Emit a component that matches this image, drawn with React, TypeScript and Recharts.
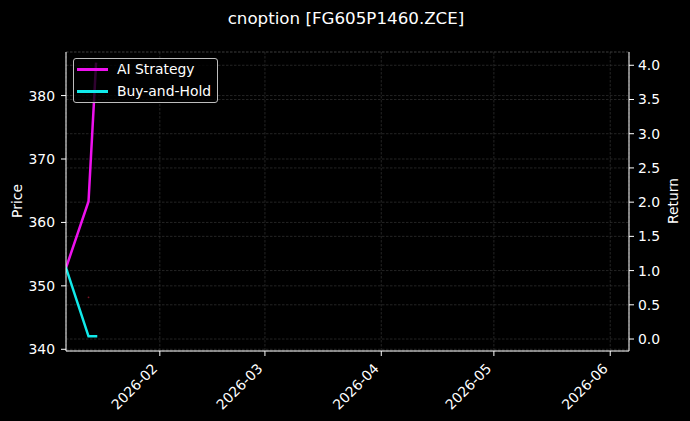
import React from 'react';
import {
  ComposedChart,
  Line,
  Scatter,
  XAxis,
  YAxis,
  CartesianGrid,
  Legend,
} from 'recharts';

// Days counted from 2026-01-01 (day 0)
const days = [6, 12, 14];
const aiStrategy = [1.04, 2.01, 4.02];
const buyAndHold = [1.04, 0.04, 0.04];

const priceDays = [12];
const priceValues = [348.2];

const xTickDays = [31, 59, 90, 120, 151];
const xTickLabels = ['2026-02', '2026-03', '2026-04', '2026-05', '2026-06'];
const priceTicks = [340, 350, 360, 370, 380];
const returnTicks = [0, 0.5, 1, 1.5, 2, 2.5, 3, 3.5, 4];

const title = 'cnoption [FG605P1460.ZCE]';

const lineData = days.map((d, i) => ({ day: d, ai: aiStrategy[i], bh: buyAndHold[i] }));
const priceData = priceDays.map((d, i) => ({ day: d, price: priceValues[i] }));

const FONT = '"DejaVu Sans", sans-serif';
const TICK_FS = 13.9;

const XTick = (props: any) => {
  const { x, y, payload } = props;
  const idx = xTickDays.indexOf(payload.value);
  const label = idx >= 0 ? xTickLabels[idx] : String(payload.value);
  const ax = x - 4.95;
  const ay = y + 4.95;
  return (
    <text
      x={ax}
      y={ay}
      dy="0.35em"
      textAnchor="end"
      fill="#ffffff"
      fontSize={TICK_FS}
      fontFamily={FONT}
      transform={`rotate(-45, ${ax}, ${ay})`}
    >
      {label}
    </text>
  );
};

const renderLegend = (props: any) => {
  const { payload } = props;
  const items = (payload || []).filter((p: any) => p.type !== 'none');
  return (
    <div
      style={{
        position: 'relative',
        width: 145,
        height: 45,
        boxSizing: 'border-box',
        border: '1px solid #bdbdbd',
        borderRadius: 3,
        background: 'rgba(0,0,0,0.8)',
        fontFamily: FONT,
        fontSize: TICK_FS,
        color: '#ffffff',
      }}
    >
      {items.map((it: any, i: number) => (
        <div key={it.value} style={{ position: 'absolute', left: 0, top: i * 22, height: 22, width: '100%' }}>
          <div
            style={{
              position: 'absolute',
              left: 3,
              top: 9,
              width: 31,
              height: 3,
              background: it.color,
            }}
          />
          <div style={{ position: 'absolute', left: 43, top: 2, lineHeight: '17px', whiteSpace: 'nowrap' }}>
            {it.value}
          </div>
        </div>
      ))}
    </div>
  );
};

const PriceDot = (props: any) => {
  const { cx, cy } = props;
  return <circle cx={cx} cy={cy} r={0.9} fill="#7a1424" />;
};

export default function App() {
  return (
    <div style={{ position: 'absolute', left: 0, top: 0, width: 690, height: 421, background: '#000000' }}>
      <ComposedChart
        width={690}
        height={421}
        data={lineData}
        margin={{ top: 52, right: 0, bottom: 0, left: 0 }}
      >
        <CartesianGrid
          yAxisId="left"
          stroke="#3c3c3c"
          strokeDasharray="2.5 1.5"
          strokeWidth={0.6}
          horizontal={true}
          vertical={true}
        />
        <CartesianGrid
          yAxisId="right"
          stroke="#3c3c3c"
          strokeDasharray="2.5 1.5"
          strokeWidth={0.6}
          horizontal={true}
          vertical={false}
        />
        <XAxis
          dataKey="day"
          type="number"
          domain={[6, 156]}
          ticks={xTickDays}
          allowDataOverflow
          height={70}
          tickSize={5}
          tickMargin={5}
          stroke="#ffffff"
          tick={<XTick />}
          interval={0}
        />
        <XAxis
          xAxisId="top"
          orientation="top"
          type="number"
          domain={[6, 156]}
          height={0}
          tick={false}
          tickLine={false}
          stroke="#ffffff"
        />
        <YAxis
          yAxisId="left"
          orientation="left"
          type="number"
          domain={[339.73, 386.87]}
          ticks={priceTicks}
          allowDataOverflow
          width={66}
          tickSize={5}
          tickMargin={6}
          stroke="#ffffff"
          tick={{ fill: '#ffffff', fontSize: TICK_FS, fontFamily: FONT }}
          interval={0}
        />
        <YAxis
          yAxisId="right"
          orientation="right"
          type="number"
          domain={[-0.175, 4.194]}
          ticks={returnTicks}
          allowDataOverflow
          width={61}
          tickSize={5}
          tickMargin={4}
          stroke="#ffffff"
          tick={{ fill: '#ffffff', fontSize: TICK_FS, fontFamily: FONT }}
          tickFormatter={(v: number) => v.toFixed(1)}
          interval={0}
        />
        <Scatter
          yAxisId="left"
          data={priceData}
          dataKey="price"
          shape={<PriceDot />}
          legendType="none"
          isAnimationActive={false}
        />
        <Line
          yAxisId="right"
          type="linear"
          dataKey="ai"
          name="AI Strategy"
          stroke="#ee11ee"
          strokeWidth={2.5}
          strokeLinecap="square"
          dot={false}
          activeDot={false}
          isAnimationActive={false}
        />
        <Line
          yAxisId="right"
          type="linear"
          dataKey="bh"
          name="Buy-and-Hold"
          stroke="#11eaea"
          strokeWidth={2.5}
          strokeLinecap="square"
          dot={false}
          activeDot={false}
          isAnimationActive={false}
        />
        <Legend
          content={renderLegend}
          layout="horizontal"
          verticalAlign="middle"
          align="center"
          wrapperStyle={{ position: 'absolute', left: 73, top: 58, width: 145, height: 45 }}
        />
      </ComposedChart>
      <svg
        width={690}
        height={421}
        style={{ position: 'absolute', left: 0, top: 0, pointerEvents: 'none' }}
      >
        <text x={346} y={24} textAnchor="middle" fill="#ffffff" fontSize={16.7} fontFamily={FONT}>
          {title}
        </text>
        <text
          x={17}
          y={201}
          textAnchor="middle"
          dominantBaseline="central"
          fill="#ffffff"
          fontSize={TICK_FS}
          fontFamily={FONT}
          transform="rotate(-90, 17, 201)"
        >
          Price
        </text>
        <text
          x={672.5}
          y={201}
          textAnchor="middle"
          dominantBaseline="central"
          fill="#ffffff"
          fontSize={TICK_FS}
          fontFamily={FONT}
          transform="rotate(-90, 672.5, 201)"
        >
          Return
        </text>
      </svg>
    </div>
  );
}
